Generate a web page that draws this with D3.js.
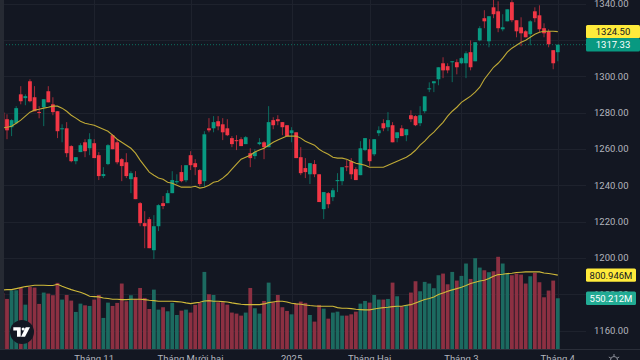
<!DOCTYPE html>
<html>
<head>
<meta charset="utf-8">
<script src="https://cdn.jsdelivr.net/npm/d3@7"></script>
<style>
  html, body { margin: 0; padding: 0; background: #131722; overflow: hidden; }
  svg { display: block; }
</style>
</head>
<body>
<svg id="chart" width="640" height="360"></svg>
<script>
const open = [1280,1276.3,1271.9,1274.1,1290,1287.9,1297.2,1288.4,1280.3,1282.9,1291.7,1284.5,1280.7,1270.8,1271.3,1261.5,1253.2,1258.2,1263.6,1260.3,1263.1,
  1256.5,1245,1251.6,1267.5,1263.6,1254.3,1252.6,1243.3,1244.4,1230.1,1219.1,1221.3,1204.2,1217.4,1230.1,1230.1,1235.6,1241.6,1247.2,1242.7,
  1256.5,1252.1,1248.3,1242.2,1271.3,1271.3,1275.2,1273.5,1271.3,1265.9,1264.8,1265.3,1262.6,1257.6,1256,1262.6,1263.6,1260.9,1275.8,1276.3,
  1274.7,1273,1268.6,1269.1,1255.4,1249.4,1246,1251.6,1246,1226.8,1235.6,1233.4,1242.2,1242.2,1250.4,1253.2,1248.8,1245.5,1259.3,1259.8,
  1257,1268.6,1274.1,1271.9,1273,1265.9,1271.3,1267.5,1278.5,1278,1274.1,1280.7,1292.8,1296.1,1298.3,1307.1,1305.5,1307.7,1307.7,1307.1,
  1307.1,1313.2,1308.2,1319.7,1331.9,1319.2,1337.9,1335.7,1325.8,1330.2,1340.7,1330.8,1326.9,1324.7,1323.1,1335.7,1333.5,1326.4,1324.7,1314.3,1313.2]
const high = [1279.5,1279,1276.3,1283.5,1294.5,1290,1298.3,1294.5,1283.5,1287.3,1294.5,1288.4,1280.7,1273.5,1274.7,1262,1255.4,1263.1,1265.3,1268.6,1265.3,
  1258.2,1249.9,1262.6,1268,1265.3,1254.9,1257.6,1247.7,1247.7,1230.7,1225.7,1222.4,1223.5,1229.5,1234,1237.2,1247.7,1246,1251,1251,
  1258.7,1254.3,1248.8,1269.7,1276.9,1278,1278,1276.9,1276.3,1267,1267.5,1266.4,1267,1260.3,1259.8,1265.9,1264.2,1283.5,1277.4,1278.5,
  1274.7,1273,1271.9,1269.1,1260.9,1254.9,1252.1,1253.8,1246,1236.2,1236.2,1238.4,1246.6,1249.9,1253.8,1254.9,1249.9,1264.2,1265.9,1265.3,
  1265.3,1272.4,1276.3,1280.2,1274.7,1269.1,1273,1270.8,1281.2,1278.5,1283.5,1288.9,1296.6,1297.2,1304.9,1310.4,1307.1,1308.2,1309.3,1310.4,
  1313.7,1319.7,1318.7,1327.5,1336.3,1333,1342.3,1341.2,1334.1,1336.8,1341.8,1330.8,1332.4,1325.3,1330.8,1337.9,1339,1329.1,1325.8,1314.3,1317.33]
const low = [1270.7,1265.3,1267,1273.6,1284.5,1284,1285.6,1280.7,1276.8,1272.5,1285.6,1278.5,1265.9,1263.6,1255.4,1252.6,1251.5,1258.2,1255.4,1256.5,1254.9,
  1242.8,1243.9,1251,1259.8,1251.5,1242.2,1243.9,1235.6,1232.3,1217.4,1205.3,1205.3,1199.3,1214.7,1226.8,1230.1,1235.6,1240.6,1241.6,1241.6,
  1248.3,1245.5,1239.4,1238.9,1269.1,1269.1,1270.2,1264.8,1267,1260.9,1259.3,1261.5,1262.6,1249.9,1254.3,1262,1254.3,1260.9,1270.8,1273,
  1267.5,1267,1263.6,1254.9,1245.5,1243.9,1240.6,1244.4,1230.7,1221.3,1227.3,1231.2,1236.2,1240,1247.7,1243.3,1242.8,1245.5,1258.7,1250.4,
  1256,1267,1269.7,1269.7,1263.6,1263.6,1267,1264.2,1274.7,1272.5,1272.5,1279.6,1291.2,1291.2,1295,1298.9,1301.6,1296.7,1301,1306.6,
  1298.9,1303.2,1308.2,1319.2,1326.4,1315.9,1331.9,1324.2,1324.7,1330.2,1329.7,1321.4,1316.5,1321.4,1317,1329.7,1324.2,1321.4,1315.9,1303.8,1308.2]
const close = [1272,1270.2,1275.8,1282.4,1286.2,1289,1286.2,1280.7,1279.8,1287.3,1285.6,1280.2,1269.7,1271.3,1257.6,1253.2,1255.4,1262,1258.7,1265.3,1254.9,
  1245,1246.1,1262,1259.8,1252.6,1250.5,1245,1246.6,1232.3,1219.1,1217.4,1205.3,1217.4,1229,1228.5,1235.6,1242.8,1242.2,1242.2,1251,
  1251,1249.9,1240.6,1268,1270.2,1274.7,1272.4,1269.1,1267.5,1262.6,1264.2,1261.5,1266.4,1254.9,1258.2,1263.6,1260.9,1274.7,1273,1275.2,
  1271.9,1267,1270.2,1254.9,1246.6,1247.2,1252.1,1246,1230.7,1236.2,1229.5,1237.2,1242.8,1249.9,1249.9,1246,1242.8,1260.3,1265.9,1253.2,
  1265.3,1270.2,1271.3,1275.8,1263.6,1269.1,1267,1270.8,1276.3,1273,1278.5,1288.9,1293.3,1297.2,1304.9,1303.2,1303.2,1308.2,1304.9,1309.9,
  1312.6,1304.9,1318.7,1326.4,1330.2,1333,1334.1,1326.4,1326.9,1336.8,1330.8,1324.7,1323.6,1321.4,1330.2,1331.9,1325.8,1323.6,1317.6,1307.1,1317.33]
const priceMa = [1271.5,1271.9,1272.4,1274.1,1275.8,1278,1280.2,1281.3,1281.8,1282.4,1282.9,1283.5,1283.5,1282.4,1280.7,1278.5,1276.9,1275.2,1274.1,1273.5,1273,
  1271.9,1270.8,1269.7,1267.5,1265.3,1263.6,1262,1260.3,1257.6,1253.8,1250.5,1247.2,1245.5,1243.9,1243.3,1241.6,1241.1,1240,1238.9,1238.9,
  1238.9,1239.4,1238.4,1238.9,1240,1241.6,1242.2,1243.9,1246,1248.8,1251.6,1254.3,1255.4,1256.5,1258.2,1259.3,1260.3,1262,1263.6,1264.8,
  1265.9,1267,1267,1267,1265.9,1264.2,1263.1,1262,1259.8,1258.2,1257,1255.4,1254.9,1254.9,1254.3,1253.2,1252.1,1251.6,1251,1249.9,
  1249.9,1249.9,1249.9,1251,1252.1,1253.2,1254.3,1255.4,1257,1259.2,1262,1264.2,1267,1269.2,1271.9,1274.6,1278,1280.7,1282.9,1285.6,
  1287.3,1289,1291.2,1293.9,1298.3,1301.6,1304.9,1307.1,1309.9,1313.2,1315.4,1317,1318.7,1319.8,1321.4,1323.1,1324.2,1324.7,1324.7,1324.7,1324.5]
const volume = [608,543,637,637,662,481,673,666,489,612,601,583,717,536,586,525,402,492,474,467,536,
  586,337,503,467,500,710,518,583,543,662,554,434,644,427,453,409,500,369,416,427,
  395,478,500,836,594,586,507,507,481,395,384,362,395,662,442,384,521,720,507,586,
  453,413,376,492,514,500,369,297,478,438,329,395,405,362,362,376,405,492,521,503,
  586,536,536,543,720,572,463,478,612,735,626,728,710,659,800,818,702,836,742,793,
  927,760,985,883,854,833,843,1000,927,818,800,818,807,710,789,825,724,561,634,742,550.212]
const volumeMa = [640,644,644,655,666,677,684,691,691,691,688,688,702,681,662,644,630,615,597,572,568,
  565,554,547,539,539,536,536,539,539,539,536,529,525,518,518,518,518,514,510,500,
  492,500,507,521,525,518,518,514,510,500,492,485,481,481,481,481,489,503,510,518,
  518,510,496,489,485,478,471,467,463,463,463,463,449,442,442,438,431,427,424,424,
  434,442,449,452,460,463,463,474,481,500,518,536,547,565,590,608,626,641,655,670,
  688,710,724,738,746,764,789,807,811,818,822,829,833,836,836,836,836,825,818,811,800.946]
const priceTicks = [1340, 1320, 1300, 1280, 1260, 1240, 1220, 1200, 1180, 1160]
const timeTickIndex = [20, 41, 63, 80, 100, 121]
const timeTickLabels = ['Tháng 11', 'Tháng Mười hai', '2025', 'Tháng Hai', 'Tháng 3', 'Tháng 4']

const upColor = '#089981'
const downColor = '#f23645'
const fontFamily = 'Roboto, sans-serif'
const last = open.length - 1

const svg = d3.select('#chart')

svg.append('rect').attr('width', 640).attr('height', 360).attr('fill', '#131722')

// scales
const x = d3.scaleLinear().domain([0, last]).range([2.41, 557.8])
const y = d3.scaleLinear().domain([1340, 1160]).range([3.5, 330.5])
const yVol = d3.scaleLinear().domain([0, 1000]).range([349, 256.8])

const indexes = d3.range(open.length)

// grid
const grid = svg.append('g').attr('id', 'grid').attr('stroke', '#1e222d')
grid.selectAll('line.h')
  .data(priceTicks)
  .join('line')
  .attr('class', 'h')
  .attr('x1', 0)
  .attr('x2', 586)
  .attr('y1', (d) => Math.round(y(d)) + 0.5)
  .attr('y2', (d) => Math.round(y(d)) + 0.5)
grid.selectAll('line.v')
  .data(timeTickIndex)
  .join('line')
  .attr('class', 'v')
  .attr('x1', (d) => Math.round(x(d)) + 0.5)
  .attr('x2', (d) => Math.round(x(d)) + 0.5)
  .attr('y1', 0)
  .attr('y2', 349)

// volume bars
svg.append('g')
  .attr('id', 'volume')
  .selectAll('rect')
  .data(indexes)
  .join('rect')
  .attr('x', (i) => x(i) - 1.9)
  .attr('width', 3.8)
  .attr('y', (i) => yVol(volume[i]))
  .attr('height', (i) => yVol(0) - yVol(volume[i]))
  .attr('fill', (i) => (close[i] >= open[i] ? '#1c6a60' : '#8c3042'))

// last price dotted line
svg.append('line')
  .attr('x1', 0).attr('x2', 586)
  .attr('y1', y(close[last])).attr('y2', y(close[last]))
  .attr('stroke', '#0c6e5f')
  .attr('stroke-dasharray', '1 2')

// candles
const candles = svg.append('g').attr('id', 'candles')
candles.selectAll('line')
  .data(indexes)
  .join('line')
  .attr('x1', (i) => x(i))
  .attr('x2', (i) => x(i))
  .attr('y1', (i) => y(high[i]))
  .attr('y2', (i) => y(low[i]))
  .attr('stroke', (i) => (close[i] >= open[i] ? upColor : downColor))
  .attr('stroke-opacity', 0.65)
candles.selectAll('rect')
  .data(indexes)
  .join('rect')
  .attr('x', (i) => x(i) - 1.9)
  .attr('width', 3.8)
  .attr('y', (i) => y(Math.max(open[i], close[i])))
  .attr('height', (i) => Math.max(1, Math.abs(y(open[i]) - y(close[i]))))
  .attr('fill', (i) => (close[i] >= open[i] ? upColor : downColor))

// moving averages
const priceLine = d3.line().x((d, i) => x(i)).y((d) => y(d))
const volumeLine = d3.line().x((d, i) => x(i)).y((d) => yVol(d))

svg.append('path')
  .attr('d', priceLine(priceMa))
  .attr('fill', 'none')
  .attr('stroke', '#bfa936')
  .attr('stroke-width', 1.1)
svg.append('path')
  .attr('d', volumeLine(volumeMa))
  .attr('fill', 'none')
  .attr('stroke', '#d0ba3a')
  .attr('stroke-width', 1.1)

// left edge strip and pane bottom, over the first clipped candle
svg.append('rect').attr('width', 4).attr('height', 349).attr('fill', '#262a33')
svg.append('line')
  .attr('x1', 0).attr('x2', 640)
  .attr('y1', 349.5).attr('y2', 349.5)
  .attr('stroke', '#2a2e39')

// price axis
const priceAxis = svg.append('g')
  .attr('transform', 'translate(594,0)')
  .call(d3.axisRight(y).tickValues(priceTicks).tickSize(0).tickPadding(0).tickFormat(d3.format('.2f')))
priceAxis.select('.domain').remove()
priceAxis.selectAll('text')
  .attr('fill', '#b2b5be')
  .attr('font-family', fontFamily)
  .attr('font-size', 9.5)

// time axis, the window cuts the labels off at the bottom
svg.append('g')
  .selectAll('text')
  .data(timeTickIndex)
  .join('text')
  .attr('x', (d) => x(d))
  .attr('y', 362)
  .attr('text-anchor', 'middle')
  .attr('fill', '#b2b5be')
  .attr('font-family', fontFamily)
  .attr('font-size', 9.5)
  .text((d, i) => timeTickLabels[i])

// value tags
function tag(value, yPos, fill, color, text, width) {
  const g = svg.append('g').attr('transform', `translate(586,${yPos(value) - 6.7})`)
  g.append('rect')
    .attr('width', width)
    .attr('height', 13.4)
    .attr('rx', 1.5)
    .attr('fill', fill)
  g.append('text')
    .attr('x', width / 2)
    .attr('y', 10.1)
    .attr('text-anchor', 'middle')
    .attr('fill', color)
    .attr('font-family', fontFamily)
    .attr('font-size', 9.5)
    .text(text)
}
tag(priceMa[last], y, '#ffeb3b', '#131722', d3.format('.2f')(priceMa[last]), 54)
tag(close[last], y, '#089981', '#ffffff', d3.format('.2f')(close[last]), 54)
tag(volumeMa[last], yVol, '#ffeb3b', '#131722', d3.format('.3f')(volumeMa[last]) + 'M', 50)
tag(volume[last], yVol, '#22ab94', '#ffffff', d3.format('.3f')(volume[last]) + 'M', 50)

// logo
const logo = svg.append('g').attr('transform', 'translate(22,332)')
logo.append('circle').attr('r', 12).attr('fill', '#131722')
logo.append('path')
  .attr('d', 'M-8.7,-4.7H-1.3V4.7H-5V-1.5H-8.7ZM3.7,-4.7H8L3,4.7H-1Z')
  .attr('fill', '#ffffff')
logo.append('circle').attr('cx', 1.2).attr('cy', -3).attr('r', 1.6).attr('fill', '#ffffff')

// settings icon, cut off by the window
const gear = svg.append('g')
  .attr('transform', 'translate(614,360)')
  .attr('stroke', '#8b8e98')
gear.append('circle').attr('r', 3.5).attr('fill', 'none')
gear.selectAll('line')
  .data([-150, -90, -30])
  .join('line')
  .attr('x1', (d) => 3.5 * Math.cos((d * Math.PI) / 180))
  .attr('y1', (d) => 3.5 * Math.sin((d * Math.PI) / 180))
  .attr('x2', (d) => 6 * Math.cos((d * Math.PI) / 180))
  .attr('y2', (d) => 6 * Math.sin((d * Math.PI) / 180))
</script>
</body>
</html>
